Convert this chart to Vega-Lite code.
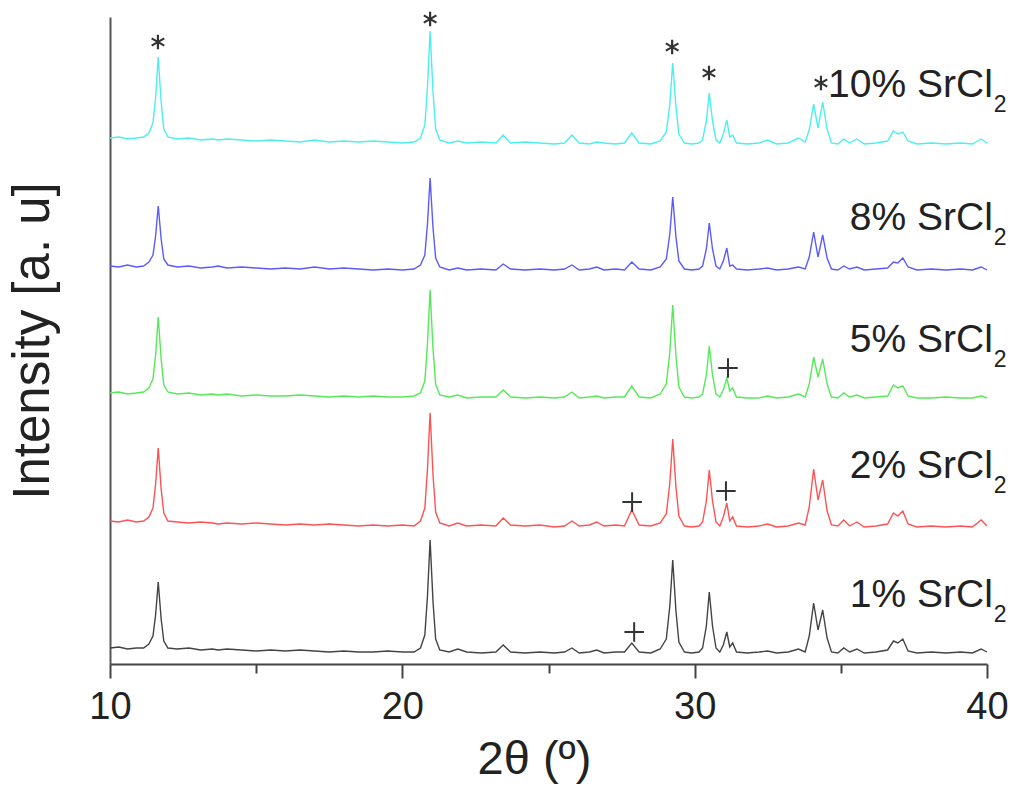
{
  "$schema": "https://vega.github.io/schema/vega-lite/v6.json",
  "width": 877,
  "height": 647,
  "autosize": "none",
  "padding": {"left": 110, "top": 17, "right": 37, "bottom": 133},
  "background": "white",
  "config": {"view": {"stroke": null}, "font": "Liberation Sans"},
  "datasets": {
    "xrd": [
      {"x": 10.0, "s10": 526, "s8": 398, "s5": 271, "s2": 143, "s1": 16},
      {"x": 10.3, "s10": 527, "s8": 397, "s5": 272, "s2": 142, "s1": 17},
      {"x": 10.6, "s10": 525, "s8": 399, "s5": 270, "s2": 144, "s1": 15},
      {"x": 10.9, "s10": 526, "s8": 397, "s5": 271, "s2": 142, "s1": 16},
      {"x": 11.15, "s10": 527, "s8": 398, "s5": 272, "s2": 143, "s1": 16},
      {"x": 11.33, "s10": 531, "s8": 402, "s5": 276, "s2": 147, "s1": 20},
      {"x": 11.47, "s10": 541, "s8": 409, "s5": 285, "s2": 156, "s1": 28},
      {"x": 11.56, "s10": 566, "s8": 428, "s5": 309, "s2": 180, "s1": 49},
      {"x": 11.65, "s10": 607, "s8": 458, "s5": 347, "s2": 216, "s1": 82},
      {"x": 11.75, "s10": 562, "s8": 425, "s5": 305, "s2": 175, "s1": 45},
      {"x": 11.84, "s10": 535, "s8": 405, "s5": 279, "s2": 151, "s1": 23},
      {"x": 11.98, "s10": 527, "s8": 399, "s5": 272, "s2": 143, "s1": 16},
      {"x": 12.3, "s10": 525, "s8": 397, "s5": 270, "s2": 142, "s1": 15},
      {"x": 12.7, "s10": 526, "s8": 398, "s5": 271, "s2": 141, "s1": 16},
      {"x": 13.1, "s10": 524, "s8": 396, "s5": 269, "s2": 142, "s1": 14},
      {"x": 13.5, "s10": 525, "s8": 397, "s5": 270, "s2": 141, "s1": 15},
      {"x": 13.7, "s10": 524, "s8": 398, "s5": 269, "s2": 140, "s1": 14},
      {"x": 14.0, "s10": 525, "s8": 396, "s5": 270, "s2": 141, "s1": 15},
      {"x": 14.5, "s10": 524, "s8": 397, "s5": 268, "s2": 140, "s1": 14},
      {"x": 15.0, "s10": 523, "s8": 396, "s5": 269, "s2": 141, "s1": 13},
      {"x": 15.5, "s10": 524, "s8": 395, "s5": 268, "s2": 140, "s1": 14},
      {"x": 16.0, "s10": 523, "s8": 396, "s5": 268, "s2": 139, "s1": 13},
      {"x": 16.5, "s10": 522, "s8": 395, "s5": 269, "s2": 140, "s1": 14},
      {"x": 17.0, "s10": 524, "s8": 397, "s5": 268, "s2": 139, "s1": 13},
      {"x": 17.5, "s10": 522, "s8": 395, "s5": 267, "s2": 140, "s1": 12},
      {"x": 18.0, "s10": 523, "s8": 396, "s5": 268, "s2": 139, "s1": 13},
      {"x": 18.5, "s10": 522, "s8": 395, "s5": 267, "s2": 138, "s1": 12},
      {"x": 19.0, "s10": 523, "s8": 394, "s5": 268, "s2": 139, "s1": 12},
      {"x": 19.5, "s10": 522, "s8": 395, "s5": 267, "s2": 138, "s1": 13},
      {"x": 20.0, "s10": 521, "s8": 394, "s5": 267, "s2": 139, "s1": 12},
      {"x": 20.4, "s10": 522, "s8": 395, "s5": 268, "s2": 138, "s1": 12},
      {"x": 20.62, "s10": 526, "s8": 399, "s5": 271, "s2": 143, "s1": 16},
      {"x": 20.77, "s10": 539, "s8": 409, "s5": 283, "s2": 156, "s1": 29},
      {"x": 20.86, "s10": 577, "s8": 440, "s5": 320, "s2": 195, "s1": 68},
      {"x": 20.95, "s10": 633, "s8": 486, "s5": 374, "s2": 251, "s1": 124},
      {"x": 21.05, "s10": 572, "s8": 436, "s5": 315, "s2": 189, "s1": 62},
      {"x": 21.14, "s10": 535, "s8": 406, "s5": 280, "s2": 152, "s1": 25},
      {"x": 21.28, "s10": 524, "s8": 397, "s5": 269, "s2": 141, "s1": 14},
      {"x": 21.6, "s10": 521, "s8": 394, "s5": 267, "s2": 138, "s1": 12},
      {"x": 21.9, "s10": 523, "s8": 396, "s5": 269, "s2": 141, "s1": 15},
      {"x": 22.2, "s10": 521, "s8": 394, "s5": 266, "s2": 138, "s1": 12},
      {"x": 22.7, "s10": 522, "s8": 395, "s5": 267, "s2": 139, "s1": 11},
      {"x": 23.2, "s10": 521, "s8": 394, "s5": 267, "s2": 138, "s1": 12},
      {"x": 23.45, "s10": 529, "s8": 400, "s5": 274, "s2": 146, "s1": 19},
      {"x": 23.7, "s10": 521, "s8": 395, "s5": 267, "s2": 139, "s1": 12},
      {"x": 24.2, "s10": 522, "s8": 394, "s5": 266, "s2": 138, "s1": 11},
      {"x": 24.7, "s10": 521, "s8": 395, "s5": 267, "s2": 139, "s1": 12},
      {"x": 25.2, "s10": 520, "s8": 394, "s5": 266, "s2": 137, "s1": 11},
      {"x": 25.55, "s10": 521, "s8": 395, "s5": 267, "s2": 138, "s1": 12},
      {"x": 25.8, "s10": 529, "s8": 399, "s5": 272, "s2": 143, "s1": 16},
      {"x": 26.05, "s10": 521, "s8": 394, "s5": 266, "s2": 138, "s1": 11},
      {"x": 26.4, "s10": 520, "s8": 395, "s5": 267, "s2": 139, "s1": 12},
      {"x": 26.65, "s10": 522, "s8": 397, "s5": 268, "s2": 142, "s1": 14},
      {"x": 26.9, "s10": 521, "s8": 394, "s5": 266, "s2": 138, "s1": 11},
      {"x": 27.3, "s10": 520, "s8": 395, "s5": 267, "s2": 139, "s1": 12},
      {"x": 27.6, "s10": 521, "s8": 394, "s5": 267, "s2": 138, "s1": 12},
      {"x": 27.85, "s10": 531, "s8": 402, "s5": 278, "s2": 154, "s1": 21},
      {"x": 28.1, "s10": 521, "s8": 395, "s5": 267, "s2": 139, "s1": 12},
      {"x": 28.5, "s10": 520, "s8": 394, "s5": 266, "s2": 138, "s1": 11},
      {"x": 28.82, "s10": 523, "s8": 397, "s5": 270, "s2": 141, "s1": 15},
      {"x": 29.03, "s10": 532, "s8": 405, "s5": 280, "s2": 150, "s1": 25},
      {"x": 29.15, "s10": 560, "s8": 430, "s5": 312, "s2": 181, "s1": 58},
      {"x": 29.25, "s10": 601, "s8": 467, "s5": 359, "s2": 225, "s1": 104},
      {"x": 29.36, "s10": 557, "s8": 427, "s5": 308, "s2": 177, "s1": 53},
      {"x": 29.46, "s10": 530, "s8": 403, "s5": 277, "s2": 148, "s1": 22},
      {"x": 29.65, "s10": 521, "s8": 395, "s5": 267, "s2": 138, "s1": 12},
      {"x": 29.9, "s10": 520, "s8": 394, "s5": 266, "s2": 137, "s1": 11},
      {"x": 30.15, "s10": 521, "s8": 395, "s5": 267, "s2": 138, "s1": 12},
      {"x": 30.27, "s10": 524, "s8": 398, "s5": 270, "s2": 142, "s1": 16},
      {"x": 30.4, "s10": 543, "s8": 415, "s5": 289, "s2": 163, "s1": 38},
      {"x": 30.5, "s10": 571, "s8": 441, "s5": 318, "s2": 194, "s1": 72},
      {"x": 30.61, "s10": 543, "s8": 415, "s5": 289, "s2": 163, "s1": 38},
      {"x": 30.73, "s10": 524, "s8": 398, "s5": 270, "s2": 142, "s1": 16},
      {"x": 30.86, "s10": 521, "s8": 395, "s5": 267, "s2": 138, "s1": 12},
      {"x": 30.98, "s10": 530, "s8": 403, "s5": 274, "s2": 147, "s1": 19},
      {"x": 31.1, "s10": 544, "s8": 416, "s5": 286, "s2": 161, "s1": 32},
      {"x": 31.2, "s10": 527, "s8": 398, "s5": 273, "s2": 143, "s1": 17},
      {"x": 31.3, "s10": 529, "s8": 399, "s5": 276, "s2": 147, "s1": 21},
      {"x": 31.43, "s10": 521, "s8": 395, "s5": 267, "s2": 138, "s1": 12},
      {"x": 31.8, "s10": 520, "s8": 394, "s5": 266, "s2": 137, "s1": 11},
      {"x": 32.2, "s10": 521, "s8": 395, "s5": 266, "s2": 138, "s1": 12},
      {"x": 32.5, "s10": 524, "s8": 396, "s5": 268, "s2": 140, "s1": 13},
      {"x": 32.8, "s10": 520, "s8": 394, "s5": 266, "s2": 137, "s1": 11},
      {"x": 33.2, "s10": 521, "s8": 395, "s5": 267, "s2": 138, "s1": 12},
      {"x": 33.55, "s10": 526, "s8": 397, "s5": 270, "s2": 141, "s1": 15},
      {"x": 33.78, "s10": 522, "s8": 395, "s5": 267, "s2": 139, "s1": 12},
      {"x": 33.92, "s10": 534, "s8": 407, "s5": 280, "s2": 157, "s1": 28},
      {"x": 34.07, "s10": 560, "s8": 432, "s5": 307, "s2": 195, "s1": 61},
      {"x": 34.22, "s10": 536, "s8": 407, "s5": 287, "s2": 164, "s1": 34},
      {"x": 34.38, "s10": 562, "s8": 429, "s5": 305, "s2": 184, "s1": 54},
      {"x": 34.53, "s10": 535, "s8": 406, "s5": 280, "s2": 153, "s1": 26},
      {"x": 34.68, "s10": 521, "s8": 395, "s5": 267, "s2": 139, "s1": 12},
      {"x": 34.9, "s10": 520, "s8": 394, "s5": 266, "s2": 138, "s1": 11},
      {"x": 35.1, "s10": 525, "s8": 398, "s5": 271, "s2": 144, "s1": 16},
      {"x": 35.3, "s10": 521, "s8": 395, "s5": 267, "s2": 138, "s1": 12},
      {"x": 35.55, "s10": 525, "s8": 397, "s5": 269, "s2": 142, "s1": 15},
      {"x": 35.8, "s10": 520, "s8": 394, "s5": 266, "s2": 137, "s1": 11},
      {"x": 36.2, "s10": 521, "s8": 395, "s5": 267, "s2": 138, "s1": 12},
      {"x": 36.6, "s10": 523, "s8": 396, "s5": 268, "s2": 140, "s1": 14},
      {"x": 36.8, "s10": 533, "s8": 402, "s5": 279, "s2": 151, "s1": 23},
      {"x": 36.95, "s10": 530, "s8": 401, "s5": 276, "s2": 148, "s1": 21},
      {"x": 37.12, "s10": 532, "s8": 406, "s5": 278, "s2": 153, "s1": 25},
      {"x": 37.3, "s10": 523, "s8": 397, "s5": 268, "s2": 140, "s1": 13},
      {"x": 37.6, "s10": 520, "s8": 394, "s5": 266, "s2": 137, "s1": 11},
      {"x": 38.1, "s10": 521, "s8": 395, "s5": 266, "s2": 138, "s1": 12},
      {"x": 38.6, "s10": 520, "s8": 394, "s5": 267, "s2": 137, "s1": 11},
      {"x": 39.1, "s10": 521, "s8": 395, "s5": 266, "s2": 138, "s1": 12},
      {"x": 39.5, "s10": 520, "s8": 394, "s5": 266, "s2": 137, "s1": 11},
      {"x": 39.8, "s10": 525, "s8": 397, "s5": 268, "s2": 144, "s1": 15},
      {"x": 40.0, "s10": 521, "s8": 394, "s5": 266, "s2": 138, "s1": 12}
    ],
    "labels": [
      {"t": "10% SrCl", "lx": 40.2, "ly": 567},
      {"t": "8% SrCl", "lx": 40.2, "ly": 434},
      {"t": "5% SrCl", "lx": 40.2, "ly": 312},
      {"t": "2% SrCl", "lx": 40.2, "ly": 186},
      {"t": "1% SrCl", "lx": 40.2, "ly": 57}
    ],
    "marks": [
      {"m": "ast", "x": 11.64, "y": 622},
      {"m": "ast", "x": 20.95, "y": 645},
      {"m": "ast", "x": 29.23, "y": 617},
      {"m": "ast", "x": 30.49, "y": 591},
      {"m": "ast", "x": 34.32, "y": 581},
      {"m": "plus", "x": 31.14, "y": 296},
      {"m": "plus", "x": 27.86, "y": 162},
      {"m": "plus", "x": 31.07, "y": 173},
      {"m": "plus", "x": 27.93, "y": 32}
    ]
  },
  "layer": [
    {
      "data": {"name": "xrd"},
      "transform": [
        {"fold": ["s10", "s8", "s5", "s2", "s1"], "as": ["series", "val"]}
      ],
      "mark": {"type": "line", "strokeWidth": 1.4, "interpolate": "linear"},
      "encoding": {
        "x": {
          "field": "x",
          "type": "quantitative",
          "scale": {"domain": [10, 40], "nice": false, "zero": false},
          "axis": {
            "values": [10, 15, 20, 25, 30, 35, 40],
            "labelExpr": "datum.value % 10 === 0 ? datum.label : ''",
            "tickSize": {"condition": {"test": "datum.value % 10 === 0", "value": 14}, "value": 9},
            "tickColor": "#444",
            "tickWidth": 2,
            "domainColor": "#444",
            "domainWidth": 2,
            "grid": false,
            "labelFontSize": 38,
            "labelColor": "#222",
            "labelPadding": 10,
            "labelFlush": false,
            "title": "2θ (º)",
            "titleX": 424,
            "titleFontSize": 47,
            "titleFontWeight": "normal",
            "titleColor": "#222",
            "titlePadding": 10
          }
        },
        "y": {
          "field": "val",
          "type": "quantitative",
          "scale": {"domain": [0, 647], "nice": false, "zero": false},
          "axis": {
            "labels": false,
            "ticks": false,
            "grid": false,
            "domainColor": "#555",
            "domainWidth": 2,
            "title": "Intensity [a. u]",
            "titleFontSize": 51,
            "titleFontWeight": "normal",
            "titleColor": "#222",
            "titlePadding": 51
          }
        },
        "color": {
          "field": "series",
          "type": "nominal",
          "legend": null,
          "scale": {
            "domain": ["s10", "s8", "s5", "s2", "s1"],
            "range": ["#4cefef", "#5a5aff", "#55ea55", "#ff5252", "#444444"]
          }
        }
      }
    },
    {
      "data": {"name": "labels"},
      "mark": {"type": "text", "align": "right", "baseline": "alphabetic", "fontSize": 39, "color": "#222"},
      "encoding": {
        "x": {"field": "lx", "type": "quantitative"},
        "y": {"field": "ly", "type": "quantitative"},
        "text": {"field": "t", "type": "nominal"}
      }
    },
    {
      "data": {"name": "labels"},
      "mark": {"type": "text", "align": "left", "baseline": "alphabetic", "fontSize": 23, "dx": 1, "dy": 15, "color": "#222"},
      "encoding": {
        "x": {"field": "lx", "type": "quantitative"},
        "y": {"field": "ly", "type": "quantitative"},
        "text": {"value": "2"}
      }
    },
    {
      "data": {"name": "marks"},
      "transform": [{"filter": "datum.m === 'ast'"}],
      "mark": {
        "type": "point",
        "shape": "M0,-1L0,1M-0.87,-0.5L0.87,0.5M-0.87,0.5L0.87,-0.5",
        "filled": false,
        "size": 210,
        "strokeWidth": 2.2,
        "color": "#333",
        "opacity": 1
      },
      "encoding": {
        "x": {"field": "x", "type": "quantitative"},
        "y": {"field": "y", "type": "quantitative"}
      }
    },
    {
      "data": {"name": "marks"},
      "transform": [{"filter": "datum.m === 'plus'"}],
      "mark": {
        "type": "point",
        "shape": "M-1,0L1,0M0,-1L0,1",
        "filled": false,
        "size": 380,
        "strokeWidth": 2,
        "color": "#333",
        "opacity": 1
      },
      "encoding": {
        "x": {"field": "x", "type": "quantitative"},
        "y": {"field": "y", "type": "quantitative"}
      }
    }
  ]
}
